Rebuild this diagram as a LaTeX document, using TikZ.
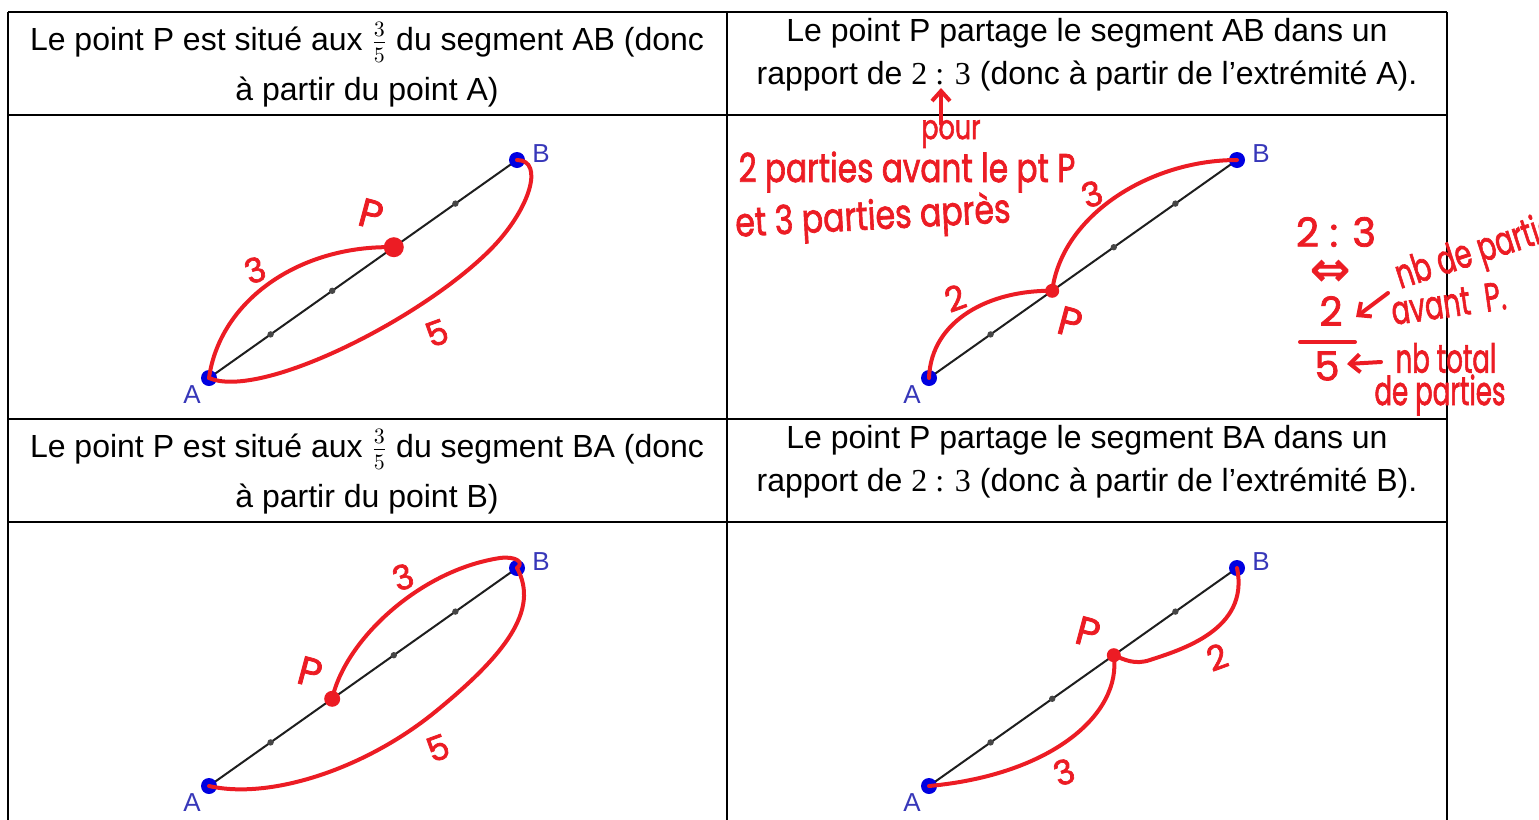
\documentclass[tikz,border=0pt]{standalone}
\usepackage{fontspec}
\usepackage{graphicx}
\setmainfont{Liberation Sans}
\newfontfamily\numfont{Liberation Serif}
\newfontfamily\handfont[FakeBold=2]{Poppins}
\newfontfamily\symfont[FakeBold=2]{DejaVu Sans}
\usetikzlibrary{arrows.meta,calc}
\definecolor{hred}{RGB}{236,28,36}
\definecolor{gblue}{RGB}{0,0,225}
\definecolor{lblue}{RGB}{55,55,185}
\definecolor{segc}{RGB}{30,30,30}
\definecolor{tickc}{RGB}{70,70,70}
\newcommand\handtxt[2]{\scalebox{#1}[1]{#2}}
\begin{document}
\begin{tikzpicture}[x=0.5pt,y=-0.5pt,
  tbl/.style={line width=1pt,black},
  hdrL/.style={font=\fontsize{16pt}{25pt}\selectfont,align=center,inner sep=0pt},
  hdrR/.style={font=\fontsize{16pt}{21.5pt}\selectfont,align=center,inner sep=0pt},
  seg/.style={line width=1pt,segc},
  tickdot/.style={fill=tickc},
  bluedot/.style={fill=gblue},
  ptlab/.style={text=lblue,font=\fontsize{13pt}{13pt}\selectfont,inner sep=0pt},
  redc/.style={hred,line width=2pt,line cap=round,line join=round},
  hand/.style={text=hred,font=\handfont\fontsize{17pt}{17pt}\selectfont,inner sep=0pt},
  handbig/.style={text=hred,font=\handfont\fontsize{20pt}{20pt}\selectfont,inner sep=0pt},
  harrow/.style={hred,line width=2pt,line cap=round,-{Straight Barb[length=5pt,width=9pt,line width=2pt]}},
]
\useasboundingbox (0,0) rectangle (1539,820);
\clip (0,0) rectangle (1539,820);

% ---------- table ----------
\foreach \yy in {12,115,419,522} \draw[tbl] (8,\yy) -- (1447,\yy);
\foreach \xx in {8,727,1447} \draw[tbl] (\xx,12) -- (\xx,820);

\node[hdrL] (h1) at (367,65) {Le point P est situé aux $\frac{3}{5}$ du segment AB (donc\\à partir du point A)};
\node[hdrR] (h2) at (1087,55) {Le point P partage le segment AB dans un\\rapport de {\numfont 2 : 3} (donc à partir de l’extrémité A).};
\node[hdrL] (h3) at (367,472) {Le point P est situé aux $\frac{3}{5}$ du segment BA (donc\\à partir du point B)};
\node[hdrR] (h4) at (1087,462) {Le point P partage le segment BA dans un\\rapport de {\numfont 2 : 3} (donc à partir de l’extrémité B).};

% ---------- four segments ----------
\coordinate (A1) at (209,378); \coordinate (B1) at (517,160);
\coordinate (A2) at (929,378); \coordinate (B2) at (1237,160);
\coordinate (A3) at (209,786); \coordinate (B3) at (517,568);
\coordinate (A4) at (929,786); \coordinate (B4) at (1237,568);
\coordinate (P1) at ($(A1)!0.6!(B1)$);
\coordinate (P2) at ($(A2)!0.4!(B2)$);
\coordinate (P3) at ($(A3)!0.4!(B3)$);
\coordinate (P4) at ($(A4)!0.6!(B4)$);

\foreach \i in {1,2,3,4}{
  \draw[seg] (A\i) -- (B\i);
  \foreach \t in {0.2,0.4,0.6,0.8} \fill[tickdot] ($(A\i)!\t!(B\i)$) circle (1.6pt);
  \fill[bluedot] (A\i) circle (4pt);
  \fill[bluedot] (B\i) circle (4pt);
  \node[ptlab] (lA\i) at ($(A\i)+(-17,17)$) {A};
  \node[ptlab] (lB\i) at ($(B\i)+(24,-6)$) {B};
}

% ---------- panel 1 ----------
\draw[redc] (A1) .. controls (220,300) and (300,245) .. (P1);
\draw[redc] (A1) .. controls (260,400) and (420,320) .. (490,250)
                 .. controls (530,210) and (545,160) .. (B1);
\fill[hred] (P1) circle (5pt);
\node[handbig,rotate=-15] (p1) at (371,214) {P};
\node[hand,rotate=20] (n13) at (255,270) {3};
\node[hand,rotate=20] (n15) at (437,333) {5};

% ---------- panel 2 ----------
\draw[redc] (A2) .. controls (931,320) and (990,290) .. (P2);
\draw[redc] (P2) .. controls (1062,215) and (1150,160) .. (B2);
\fill[hred] (P2) circle (3.5pt);
\node[handbig,rotate=-15] (p2) at (1070,322) {P};
\node[hand,rotate=20] (n22) at (955,298) {2};
\node[hand,rotate=20] (n23) at (1092,194) {3};

% handwritten notes panel 2
\node[hand] (pour) at (951,134) {\handtxt{0.75}{pour}};
\coordinate (arS) at (941,124); \coordinate (arE) at (941,88);
\draw[harrow] (arS) -- (arE);
\node[handbig] (t1) at (907,172) {\handtxt{0.78}{2 parties avant le pt P}};
\node[handbig,rotate=3] (t2) at (873,219) {\handtxt{0.79}{et 3 parties après}};

% side notes
\node[handbig] (r23) at (1336,232) {2 : 3};
\node[text=hred,inner sep=0pt,font=\symfont\fontsize{24pt}{24pt}\selectfont] (equiv) at (1330,273) {⇔};
\node[handbig] (f2) at (1331,311) {2};
\coordinate (a1S) at (1388,293); \coordinate (a1E) at (1356,317);
\draw[harrow] (a1S) -- (a1E);
\node[handbig,anchor=base west,rotate=18] (nbde) at (1400,289) {\handtxt{0.68}{nb de parties}};
\node[handbig,anchor=base west,rotate=8] (avP) at (1393,325) {\handtxt{0.68}{avant\ \ P.}};
\coordinate (fbL) at (1300,342); \coordinate (fbR) at (1355,342);
\draw[redc] (fbL) -- (fbR);
\node[handbig] (f5) at (1327,366) {5};
\coordinate (a2S) at (1381,362); \coordinate (a2E) at (1347,364);
\draw[harrow] (a2S) -- (a2E);
\node[handbig] (nbt) at (1446,358) {\handtxt{0.65}{nb total}};
\node[handbig] (dep) at (1440,395) {\handtxt{0.65}{de parties}};

% ---------- panel 3 ----------
\draw[redc] (P3) .. controls (345,640) and (420,570) .. (500,558)
                 .. controls (515,556) and (525,562) .. (B3);
\draw[redc] (B3) .. controls (540,610) and (505,655) .. (435,712)
                 .. controls (365,769) and (270,800) .. (A3);
\fill[hred] (P3) circle (4pt);
\node[handbig,rotate=-15] (p3) at (310,672) {P};
\node[hand,rotate=20] (n33) at (403,577) {3};
\node[hand,rotate=20] (n35) at (438,748) {5};

% ---------- panel 4 ----------
\draw[redc] (B4) .. controls (1250,630) and (1180,650) .. (1150,660)
                 .. controls (1135,665) and (1125,660) .. (P4);
\draw[redc] (P4) .. controls (1122,715) and (1050,775) .. (A4);
\fill[hred] (P4) circle (3.5pt);
\node[handbig,rotate=-15] (p4) at (1088,632) {P};
\node[hand,rotate=20] (n42) at (1217,657) {2};
\node[hand,rotate=20] (n43) at (1064,772) {3};
\end{tikzpicture}
\end{document}
